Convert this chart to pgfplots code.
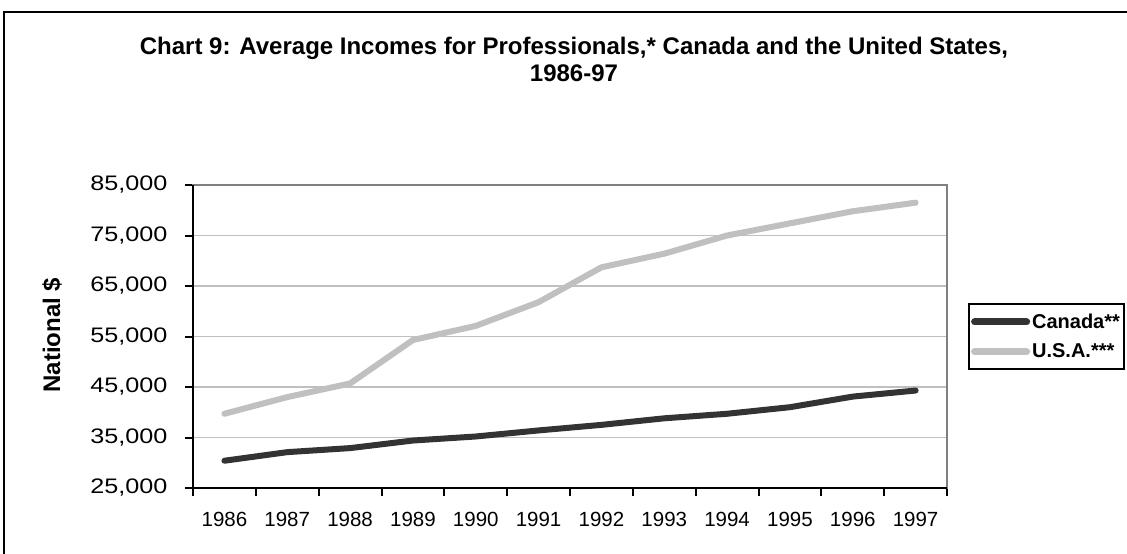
\documentclass[border=0pt]{standalone}
\usepackage{fontspec}
\setmainfont{Liberation Sans}
\newfontfamily\ytickfont{Liberation Sans}[FakeStretch=1.2]
\usepackage{pgfplots}
\pgfplotsset{compat=1.18}
\usepackage{pgfplotstable}
\definecolor{canadac}{HTML}{333333}
\definecolor{usac}{HTML}{C0C0C0}
\definecolor{gridc}{HTML}{C0C0C0}
\definecolor{borderc}{HTML}{808080}

\pgfplotstableread{
idx year canada usa
0 1986 30400 39700
1 1987 32100 43000
2 1988 32900 45700
3 1989 34400 54300
4 1990 35200 57100
5 1991 36400 61800
6 1992 37500 68700
7 1993 38800 71400
8 1994 39700 75000
9 1995 41000 77400
10 1996 43100 79800
11 1997 44300 81500
}\datatable

\begin{document}
\begin{tikzpicture}
\useasboundingbox (0pt,0pt) rectangle (1127pt,554pt);
\fill[white] (0pt,0pt) rectangle (1127pt,554pt);
\draw[black, line width=2pt] (4pt,542pt) rectangle (1140pt,-10pt);
\node[font=\bfseries\fontsize{24}{28}\selectfont, anchor=base, inner sep=0pt] at (574pt,499.7pt) {Chart 9: Average Incomes for Professionals,* Canada and the United States,};
\node[font=\bfseries\fontsize{24}{28}\selectfont, anchor=base, inner sep=0pt] at (574pt,472pt) {1986-97};
\node[font=\bfseries\fontsize{24}{28}\selectfont, rotate=90, inner sep=0pt] at (52pt,219pt) {National \$};
\begin{axis}[
  at={(193pt,66pt)}, anchor=south west,
  width=754pt, height=303pt, scale only axis,
  xmin=-0.5, xmax=11.5, ymin=25000, ymax=85000,
  xtick={-0.5,0.5,1.5,2.5,3.5,4.5,5.5,6.5,7.5,8.5,9.5,10.5,11.5},
  xticklabels={1986,1987,1988,1989,1990,1991,1992,1993,1994,1995,1996,1997,{}},
  xticklabel style={xshift=31.42pt, yshift=-13pt, font=\fontsize{20.5}{24}\selectfont},
  ytick={25000,35000,45000,55000,65000,75000,85000},
  xtick pos=bottom, ytick pos=left,
  tick align=outside, major tick length=8pt,
  tick style={black, line width=2pt},
  ymajorgrids, grid style={gridc, line width=1.5pt},
  axis line style={borderc, line width=2pt},
  scaled y ticks=false,
  /pgf/number format/assume math mode=true,
  yticklabel style={font=\ytickfont\fontsize{21}{24}\selectfont, xshift=-14pt,
    /pgf/number format/fixed, /pgf/number format/1000 sep={,}},
  legend style={at={(1.028,0.6106)}, anchor=north west, draw=black, line width=2pt,
    font=\bfseries\fontsize{20}{24}\selectfont, inner xsep=2pt, inner ysep=8pt, row sep=10pt},
  legend cell align=left,
  legend image code/.code={\draw[#1, line width=7pt] (0pt,0pt) -- (52pt,0pt);},
  after end axis/.code={\draw[black, line width=2pt] (rel axis cs:0,1) -- (rel axis cs:0,0) -- (rel axis cs:1,0);},
]
\addplot[canadac, line width=6pt, line cap=round, line join=round, no markers] table[x=idx, y=canada] {\datatable};
\addlegendentry{Canada**}
\addplot[usac, line width=6pt, line cap=round, line join=round, no markers] table[x=idx, y=usa] {\datatable};
\addlegendentry{U.S.A.***}
\end{axis}
\end{tikzpicture}
\end{document}
